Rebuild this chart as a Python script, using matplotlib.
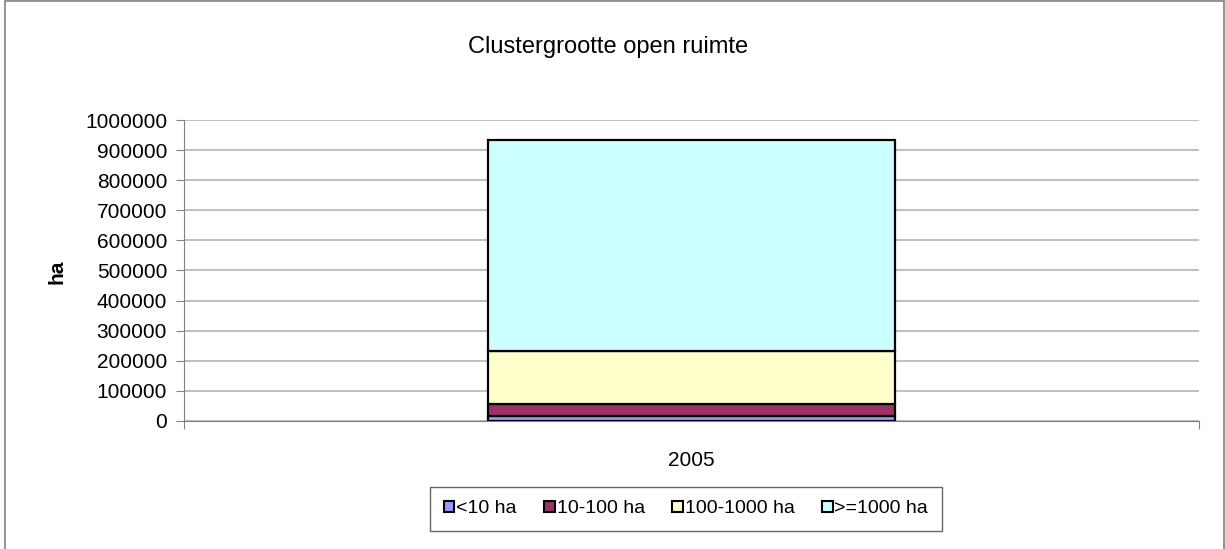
import matplotlib
matplotlib.use("Agg")
import matplotlib.pyplot as plt
from matplotlib.patches import Patch, Rectangle

plt.rcParams['font.family'] = ['Liberation Sans', 'DejaVu Sans']

years = ["2005"]
labels = ["<10 ha", "10-100 ha", "100-1000 ha", ">=1000 ha"]
values = [15000, 41000, 176600, 700400]
colors = ["#9999FF", "#993366", "#FFFFCC", "#CCFFFF"]

fig = plt.figure(figsize=(12.25, 5.49), dpi=100)
ax = fig.add_axes([0.150, 0.2332, 0.829, 0.5482])

bottom = 0
for lab, v, c in zip(labels, values, colors):
    ax.bar(0, v, width=0.4, bottom=bottom, color=c, edgecolor="black",
           linewidth=1.6, label=lab, zorder=3)
    bottom += v

ax.set_xlim(-0.5, 0.5)
ax.set_ylim(0, 1000000)
ax.set_yticks(range(0, 1000001, 100000))
ax.set_yticklabels([str(t) for t in range(0, 1000001, 100000)], fontsize=15)
ax.yaxis.grid(True, color="#c0c0c0", linewidth=1.5, zorder=0)
ax.set_axisbelow(True)

ax.set_xticks([-0.5, 0.5])
ax.set_xticklabels(["", ""])
ax.tick_params(axis="x", length=6, color="#808080")
ax.tick_params(axis="y", length=6, color="#808080", pad=6)
ax.text(0, -0.13, years[0], transform=ax.get_xaxis_transform(), ha="center",
        va="center", fontsize=15)

for s in ["top", "right"]:
    ax.spines[s].set_visible(False)
ax.spines["left"].set_color("#808080")
ax.spines["bottom"].set_color("#808080")

fig.text(57 / 1225, 1 - 272 / 549, "ha", rotation=90, ha="center", va="center",
         fontsize=15, fontweight="bold")
fig.text(0.496, 0.915, "Clustergrootte open ruimte", ha="center", va="center",
         fontsize=17)

handles = [Patch(facecolor=c, edgecolor="black", linewidth=1.5) for c in colors]
leg = fig.legend(handles, labels, loc="center", bbox_to_anchor=(0.56, 0.073),
                 ncol=4, fontsize=14, frameon=True, fancybox=False,
                 handlelength=0.55, handleheight=0.55, handletextpad=0.1,
                 columnspacing=1.4, borderpad=0.7)
leg.get_frame().set_edgecolor("#404040")
leg.get_frame().set_linewidth(1.0)

fig.patches.append(Rectangle((0.004, -0.01), 0.995, 1.008, transform=fig.transFigure,
                             fill=False, edgecolor="#808080", linewidth=1.2))

fig.savefig("out.png", dpi=100)
